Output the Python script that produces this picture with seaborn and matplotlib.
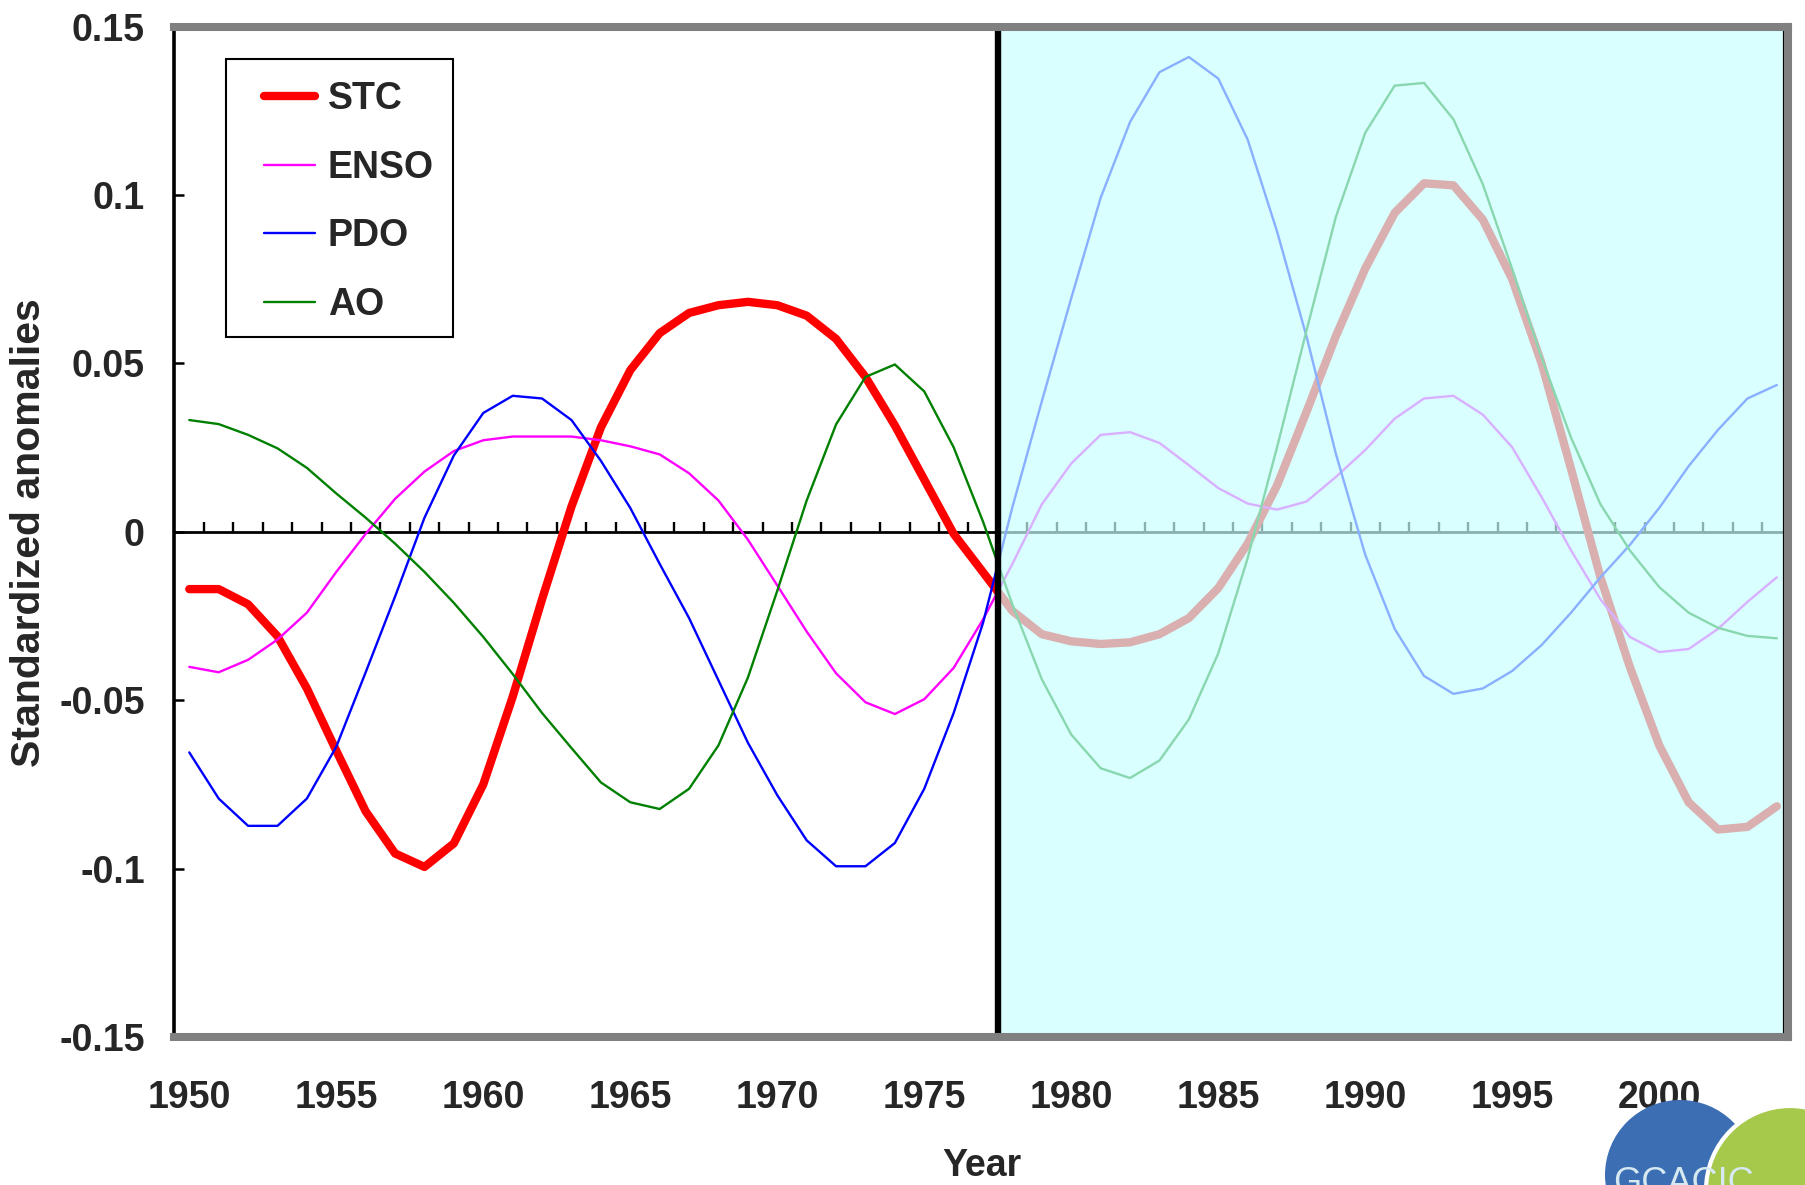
import numpy as np
import pandas as pd
import matplotlib
matplotlib.use("Agg")
import matplotlib.pyplot as plt
from matplotlib.patches import Rectangle, Ellipse
import seaborn as sns

# ---- data -----------------------------------------------------------------
years = np.arange(1950, 2005)

stc = [-0.017, -0.017, -0.0215, -0.031, -0.0465, -0.065, -0.083, -0.0955, -0.0995, -0.0925,
       -0.075, -0.049, -0.020, 0.0075, 0.031, 0.048, 0.059, 0.065, 0.0673, 0.0683,
       0.0673, 0.0642, 0.0573, 0.046, 0.0316, 0.0155, -0.0006, -0.012, -0.0235, -0.0304,
       -0.0325, -0.0333, -0.0328, -0.0304, -0.0256, -0.0167, -0.0035, 0.0138, 0.0356, 0.0581,
       0.0782, 0.0947, 0.1035, 0.1029, 0.0927, 0.075, 0.050, 0.0187, -0.0135, -0.0401,
       -0.0634, -0.0803, -0.0884, -0.0876, -0.0815]

enso = [-0.0401, -0.0417, -0.038, -0.032, -0.024, -0.0119, -0.0006, 0.0098, 0.0179, 0.024,
        0.0272, 0.0283, 0.0283, 0.0283, 0.0272, 0.0254, 0.023, 0.0174, 0.0093, -0.0023,
        -0.0159, -0.0296, -0.042, -0.0506, -0.0541, -0.0497, -0.0404, -0.026, -0.0095, 0.0082,
        0.0203, 0.0288, 0.0296, 0.0264, 0.0198, 0.013, 0.0084, 0.0066, 0.009, 0.0163,
        0.0243, 0.0336, 0.0396, 0.0404, 0.0348, 0.0251, 0.0103, -0.0055, -0.020, -0.0312,
        -0.0357, -0.0348, -0.0288, -0.0208, -0.0135]

pdo = [-0.0655, -0.0792, -0.0873, -0.0873, -0.0792, -0.0638, -0.0417, -0.0192, 0.0042, 0.0227,
       0.0353, 0.0404, 0.0396, 0.0332, 0.0211, 0.0071, -0.0095, -0.0256, -0.0441, -0.0626,
       -0.0782, -0.0916, -0.0993, -0.0993, -0.0924, -0.0763, -0.0538, -0.027, 0.0074, 0.0388,
       0.0694, 0.0992, 0.1217, 0.1365, 0.141, 0.1346, 0.1165, 0.0892, 0.0581, 0.0232,
       -0.0068, -0.0288, -0.0428, -0.0481, -0.0465, -0.0413, -0.0336, -0.024, -0.0135, -0.0039,
       0.0071, 0.0195, 0.0303, 0.0396, 0.0436]

ao = [0.0332, 0.032, 0.0288, 0.0248, 0.019, 0.0114, 0.0042, -0.0035, -0.0119, -0.0211,
      -0.0312, -0.0422, -0.0538, -0.0642, -0.0744, -0.0803, -0.0823, -0.0763, -0.0634, -0.0433,
      -0.0175, 0.0093, 0.0319, 0.046, 0.0497, 0.0417, 0.0251, 0.003, -0.0216, -0.0438,
      -0.0602, -0.0702, -0.0731, -0.0679, -0.0557, -0.0361, -0.0078, 0.0251, 0.0597, 0.0935,
      0.1185, 0.1325, 0.1333, 0.1225, 0.1032, 0.078, 0.0517, 0.028, 0.0082, -0.0055,
      -0.0164, -0.024, -0.0285, -0.0309, -0.0316]

series_names = ["STC", "ENSO", "PDO", "AO"]
series_colors = ["#FF0000", "#FF00FF", "#0000FF", "#008000"]
series_widths = [6.0, 1.7, 1.7, 1.7]

y_tick_values = [0.15, 0.1, 0.05, 0, -0.05, -0.1, -0.15]
y_tick_labels = ["0.15", "0.1", "0.05", "0", "-0.05", "-0.1", "-0.15"]
x_tick_years = list(range(1950, 2001, 5))
shift_year = 1977.52

df = pd.DataFrame({"Year": years, "STC": stc, "ENSO": enso, "PDO": pdo, "AO": ao})

# ---- style ----------------------------------------------------------------
sns.set_style("white")
plt.rcParams["font.family"] = ["Liberation Sans Narrow", "Liberation Sans", "DejaVu Sans"]
plt.rcParams["font.weight"] = "bold"

W, H = 1805, 1185
fig = plt.figure(figsize=(W / 100, H / 100), dpi=100)
ax_left, ax_right, ax_top, ax_bottom = 174, 1788, 26.7, 1037
ax = fig.add_axes([ax_left / W, 1 - ax_bottom / H,
                   (ax_right - ax_left) / W, (ax_bottom - ax_top) / H])

x_min, x_max = 1949.48, 2004.38
ax.set_xlim(x_min, x_max)
ax.set_ylim(-0.15, 0.15)

handles = []
for name, col, lw in zip(series_names, series_colors, series_widths):
    sns.lineplot(data=df, x="Year", y=name, color=col, linewidth=lw,
                 ax=ax, label=name, zorder=3)
    handles.append(ax.lines[-1])

# zero line with yearly tick marks
ax.axhline(0, color="black", lw=2.0, zorder=2.5)
ax.vlines(years[:-1] + 0.5, 0, 0.003, color="black", lw=1.7, zorder=2.5)

# shaded period after the shift
ax.add_patch(Rectangle((shift_year, -0.15), x_max - shift_year, 0.30,
                       facecolor=(200 / 255, 1.0, 1.0), alpha=0.69,
                       edgecolor="none", zorder=5))
ax.add_patch(Rectangle((shift_year, -0.15), x_max - shift_year - 0.12, 0.2995,
                       fill=False, edgecolor="black", lw=1.6, zorder=6))
ax.axvline(shift_year, color="black", lw=4.6, zorder=6)

# frame
for side in ["top", "bottom", "right"]:
    ax.spines[side].set_color("#808080")
    ax.spines[side].set_linewidth(5.8)
    ax.spines[side].set_zorder(7)
ax.spines["left"].set_color("black")
ax.spines["left"].set_linewidth(2.6)
ax.spines["left"].set_zorder(7)

# ticks
ax.set_yticks(y_tick_values)
ax.set_yticklabels(y_tick_labels)
ax.set_xticks(x_tick_years)
ax.set_xticklabels([str(y) for y in x_tick_years])
ax.tick_params(axis="y", direction="in", length=7.2, width=1.8, color="black",
               pad=21, labelsize=27, left=True)
ax.tick_params(axis="x", length=0, pad=31, labelsize=27)
ax.set_xlabel("")
ax.set_ylabel("")

# legend
leg = ax.legend(handles, series_names, loc="center left",
                bbox_to_anchor=((264 - ax_left) / (ax_right - ax_left),
                                1 - (202 - ax_top) / (ax_bottom - ax_top)),
                frameon=False, borderpad=0, borderaxespad=0,
                handlelength=1.35, handletextpad=0.35,
                labelspacing=0.87, fontsize=27)
leg.set_zorder(8)
ax.add_patch(Rectangle(((225.6 - ax_left) / (ax_right - ax_left),
                        1 - (336.7 - ax_top) / (ax_bottom - ax_top)),
                       227 / (ax_right - ax_left), 278 / (ax_bottom - ax_top),
                       transform=ax.transAxes, fill=False, edgecolor="black",
                       lw=1.5, zorder=8))

# axis titles
fig.text(29 / W, 1 - 533 / H, "Standardized anomalies", rotation=90,
         ha="center", va="center", fontsize=29.5, fontweight="bold")
fig.text(982 / W, 1 - 1166 / H, "Year", ha="center", va="center",
         fontsize=27, fontweight="bold")

# emblem in the lower right corner
fig.patches.append(Ellipse((1680 / W, 1 - 1175 / H), 150 / W, 150 / H,
                           transform=fig.transFigure, facecolor="#3C6EB4",
                           edgecolor="none", zorder=1))
fig.patches.append(Ellipse((1790 / W, 1 - 1190 / H), 168 / W, 168 / H,
                           transform=fig.transFigure, facecolor="#A6C94C",
                           edgecolor="white", lw=3, zorder=2))
fig.text(1613 / W, 1 - 1193 / H, "GCACIC", ha="left", va="baseline",
         fontsize=26, fontweight="normal", color="#D6E8F0", zorder=3)

fig.savefig("out.png", dpi=100)
